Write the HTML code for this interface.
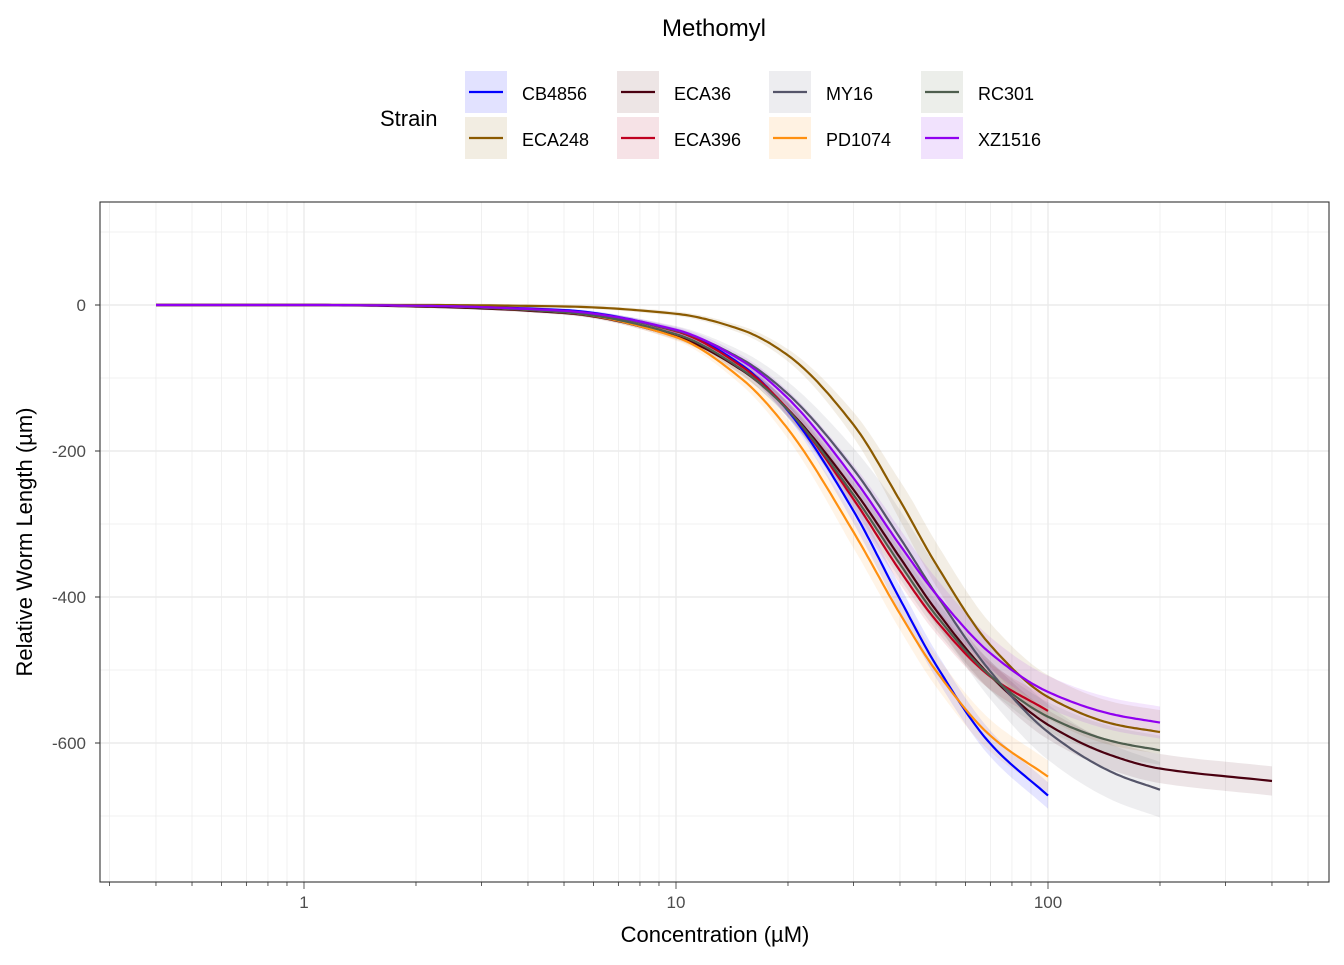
<!DOCTYPE html>
<html><head><meta charset="utf-8"><style>
body{margin:0;background:#fff;font-family:"Liberation Sans",Arial,sans-serif;}
svg text{font-family:"Liberation Sans",Arial,sans-serif;}
</style></head><body>
<svg id="chart" width="1344" height="960" xmlns="http://www.w3.org/2000/svg">
<rect width="1344" height="960" fill="#fff"/>
<text x="714" y="36" font-size="24" text-anchor="middle">Methomyl</text>
<g id="legend">
<text x="380" y="126" font-size="22">Strain</text>
</g>
<g id="grid"></g>
<g id="ribbons"></g>
<g id="lines"></g>
<rect x="100" y="202" width="1229" height="680" fill="none" stroke="#333" stroke-width="1.1"/>
<g id="axes"></g>
<text x="715" y="942" font-size="22" text-anchor="middle">Concentration (µM)</text>
<text transform="translate(32,542) rotate(-90)" font-size="22" text-anchor="middle">Relative Worm Length (µm)</text>
</svg>
<script>
const strains=["CB4856","ECA248","ECA36","ECA396","MY16","PD1074","RC301","XZ1516"];
const colors=["#0000ff","#8b5a00","#4a0010","#c00020","#55556a","#ff9010","#4e5e4e","#9000f0"];
const fills=["#e2e2ff","#f2ede2","#ede5e5","#f6e2e6","#ededf0","#fff2e2","#eceeea","#f1e2fd"];
const conc=[0.4,1,2,5,10,15,20,30,40,50,70,100,150,200,400];
const vCB4856=[0,0,-1,-7,-35,-82,-145,-282,-403,-493,-601,-672];
const vECA248=[0,0,0,-2,-12,-34,-69,-164,-268,-355,-466,-537,-574,-585];
const vECA36=[0,0,-2,-11,-43,-89,-143,-253,-346,-418,-508,-575,-618,-635,-652];
const vECA396=[0,0,-1,-8,-36,-84,-143,-266,-364,-432,-509,-556];
const vMY16=[0,0,-1,-9,-35,-74,-122,-225,-319,-396,-502,-585,-641,-664];
const vPD1074=[0,0,-1,-10,-44,-101,-170,-311,-423,-501,-590,-646];
const vRC301=[0,0,-1,-10,-40,-88,-144,-260,-355,-425,-508,-564,-598,-610];
const vXZ1516=[0,0,-1,-8,-34,-76,-128,-237,-329,-396,-477,-530,-561,-572];
const bandHalf=[16,28,18,16,36,20,18,20];
const series=[vCB4856,vECA248,vECA36,vECA396,vMY16,vPD1074,vRC301,vXZ1516];
const xTicks=[1,10,100];
const yTicks=[0,-200,-400,-600];
const NS="http://www.w3.org/2000/svg";
const xs=c=>304+372*Math.log10(c);
const ys=v=>305-0.73*v;
function mk(tag,attrs,parent){const e=document.createElementNS(NS,tag);for(const k in attrs)e.setAttribute(k,attrs[k]);parent.appendChild(e);return e;}
const grid=document.getElementById('grid'),axes=document.getElementById('axes');
for(let d=-1;d<=2;d++)for(let m=1;m<10;m++){const c=m*Math.pow(10,d);const x=xs(c);if(x<100||x>1329)continue;
 const l=mk('line',{x1:x,x2:x,y1:202,y2:882,stroke:'#ebebeb','stroke-width':m===1?1.4:0.7},grid);
 
 
 const t=mk('line',{x1:x,x2:x,y1:882,y2:m===1?889:886,stroke:'#333','stroke-width':0.8},axes);
 
 }
for(let v=100;v>=-700;v-=100){const l=mk('line',{x1:100,x2:1329,y1:ys(v),y2:ys(v),stroke:'#ebebeb','stroke-width':v%200===0?1.4:0.7},grid);
 
 }
xTicks.forEach(c=>{const t=mk('text',{x:xs(c),y:908,'font-size':17,'text-anchor':'middle',fill:'#4d4d4d'},axes);t.textContent=c;
 
 });
yTicks.forEach(v=>{const t=mk('text',{x:86,y:ys(v)+6,'font-size':17,'text-anchor':'end',fill:'#4d4d4d'},axes);t.textContent=v;
 
 
 const k=mk('line',{x1:95,x2:100,y1:ys(v),y2:ys(v),stroke:'#333'},axes);
 
 });
function curve(vals){const n=vals.length;const X=conc.slice(0,n).map(Math.log10);const pts=[];
 const d=[],m=[];for(let i=0;i<n-1;i++)d.push((vals[i+1]-vals[i])/(X[i+1]-X[i]));
 for(let i=0;i<n;i++){if(i===0)m.push(d[0]);else if(i===n-1)m.push(d[n-2]);else m.push(d[i-1]*d[i]<=0?0:2/(1/d[i-1]+1/d[i]));}
 for(let i=0;i<n-1;i++){const h=X[i+1]-X[i];for(let s=0;s<20;s++){const t=s/20,t2=t*t,t3=t2*t;
  const y=(2*t3-3*t2+1)*vals[i]+(t3-2*t2+t)*h*m[i]+(-2*t3+3*t2)*vals[i+1]+(t3-t2)*h*m[i+1];
  pts.push([X[i]+t*h,y]);}}
 pts.push([X[n-1],vals[n-1]]);return pts;}
const rib=document.getElementById('ribbons'),lines=document.getElementById('lines');
series.forEach((vals,i)=>{const pts=curve(vals);
 const up=pts.map(p=>{const f=Math.min(1,Math.abs(p[1])/300);return [p[0],p[1]+bandHalf[i]*f+2];});
 const lo=pts.map(p=>{const f=Math.min(1,Math.abs(p[1])/300);return [p[0],p[1]-bandHalf[i]*f-2];}).reverse();
 const P=a=>a.map(p=>(304+372*p[0]).toFixed(1)+','+ys(p[1]).toFixed(1)).join(' ');
 const r=mk('polygon',{points:P(up)+' '+P(lo),fill:colors[i],'fill-opacity':0.1},rib);
 
 
 const l=mk('polyline',{points:P(pts),fill:'none',stroke:colors[i],'stroke-width':2.2},lines);
 
 });
const lg=document.getElementById('legend');
const order=[0,2,4,6,1,3,5,7];
order.forEach((si,k)=>{const col=k%4,row=Math.floor(k/4);const x=465+col*152,y=71+row*46;
 const b=mk('rect',{x:x,y:y,width:42,height:42,fill:fills[si]},lg);
 
 
 mk('line',{x1:x+4,x2:x+38,y1:y+21,y2:y+21,stroke:colors[si],'stroke-width':2.2},lg);
 const t=mk('text',{x:x+57,y:y+29,'font-size':18},lg);t.textContent=strains[si];
 
 });
</script>
</body></html>
